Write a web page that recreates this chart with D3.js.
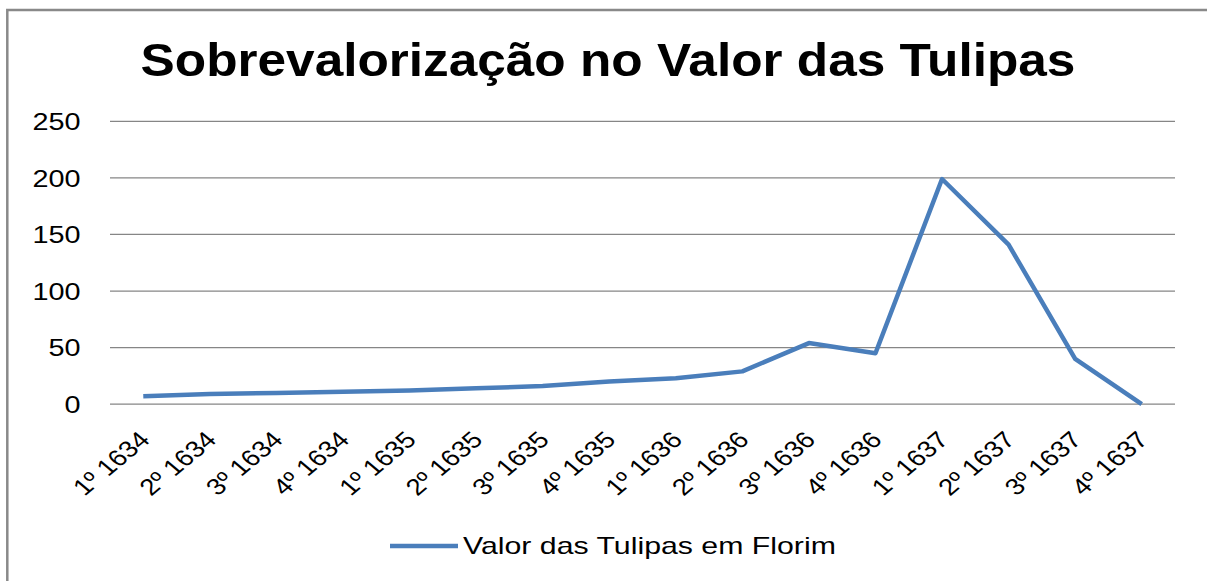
<!DOCTYPE html>
<html>
<head>
<meta charset="utf-8">
<script src="https://cdn.jsdelivr.net/npm/d3@7"></script>
<style>
  html, body { margin: 0; padding: 0; background: #fff; }
  svg { display: block; }
</style>
</head>
<body>
<svg id="chart" width="1207" height="581"></svg>
<script>
const categories = ["1º 1634","2º 1634","3º 1634","4º 1634","1º 1635","2º 1635","3º 1635","4º 1635",
                    "1º 1636","2º 1636","3º 1636","4º 1636","1º 1637","2º 1637","3º 1637","4º 1637"];
const values = [7, 9, 10, 11, 12, 14, 16, 20, 23, 29, 54, 45, 199, 141, 40, 0];
const yTicks = [0, 50, 100, 150, 200, 250];
const titleText = "Sobrevalorização no Valor das Tulipas";
const seriesName = "Valor das Tulipas em Florim";

const svg = d3.select("#chart");
const W = 1207, H = 581;
const FONT = "'Liberation Sans', Arial, sans-serif";
const SX = 1.2; // horizontal stretch of text as in reference

svg.append("rect").attr("width", W).attr("height", H).attr("fill", "#fff");

// chart area border (top and left visible)
svg.append("rect")
  .attr("x", 7.3).attr("y", 10).attr("width", 1400).attr("height", 800)
  .attr("fill", "none").attr("stroke", "#898989").attr("stroke-width", 2.5);

const plot = { left: 110, right: 1175, top: 121.3, bottom: 404.2 };

const x = d3.scaleBand().domain(categories).range([plot.left, plot.right]).padding(0);
const y = d3.scaleLinear().domain([0, 250]).range([plot.bottom, plot.top]);

// gridlines
svg.append("g").selectAll("line").data(yTicks).join("line")
  .attr("x1", plot.left).attr("x2", plot.right)
  .attr("y1", d => y(d)).attr("y2", d => y(d))
  .attr("stroke", "#868686").attr("stroke-width", 1.3);

// y axis labels
svg.append("g").selectAll("text").data(yTicks).join("text")
  .attr("transform", d => `translate(80.5,${y(d)}) scale(${SX},1)`)
  .attr("text-anchor", "end").attr("dy", "0.36em")
  .attr("font-family", FONT).attr("font-size", 24).attr("fill", "#000")
  .text(d => d);

// x category labels rotated
svg.append("g").selectAll("text").data(categories).join("text")
  .attr("transform", d => `translate(${x(d) + x.bandwidth() / 2 + 8},${plot.bottom + 37}) scale(${SX},1) rotate(-45)`)
  .attr("text-anchor", "end")
  .attr("font-family", FONT).attr("font-size", 23).attr("fill", "#000")
  .text(d => d);

// series line
const line = d3.line()
  .x((d, i) => x(categories[i]) + x.bandwidth() / 2)
  .y(d => y(d));
svg.append("path").datum(values)
  .attr("d", line)
  .attr("fill", "none").attr("stroke", "#4a7ebb").attr("stroke-width", 4.5)
  .attr("stroke-linejoin", "round").attr("stroke-linecap", "butt");

// title
const title = svg.append("text")
  .attr("font-family", FONT).attr("font-weight", "bold").attr("font-size", 46)
  .attr("text-anchor", "middle").attr("fill", "#000")
  .text(titleText);
const tw = title.node().getComputedTextLength();
title.attr("transform", `translate(608,76) scale(${935 / tw},1)`);

// legend
svg.append("line")
  .attr("x1", 390).attr("x2", 458).attr("y1", 546).attr("y2", 546)
  .attr("stroke", "#4a7ebb").attr("stroke-width", 4.5);
const leg = svg.append("text")
  .attr("font-family", FONT).attr("font-size", 24).attr("fill", "#000")
  .text(seriesName);
const lw = leg.node().getComputedTextLength();
leg.attr("transform", `translate(463,554) scale(${373 / lw},1)`);
</script>
</body>
</html>
